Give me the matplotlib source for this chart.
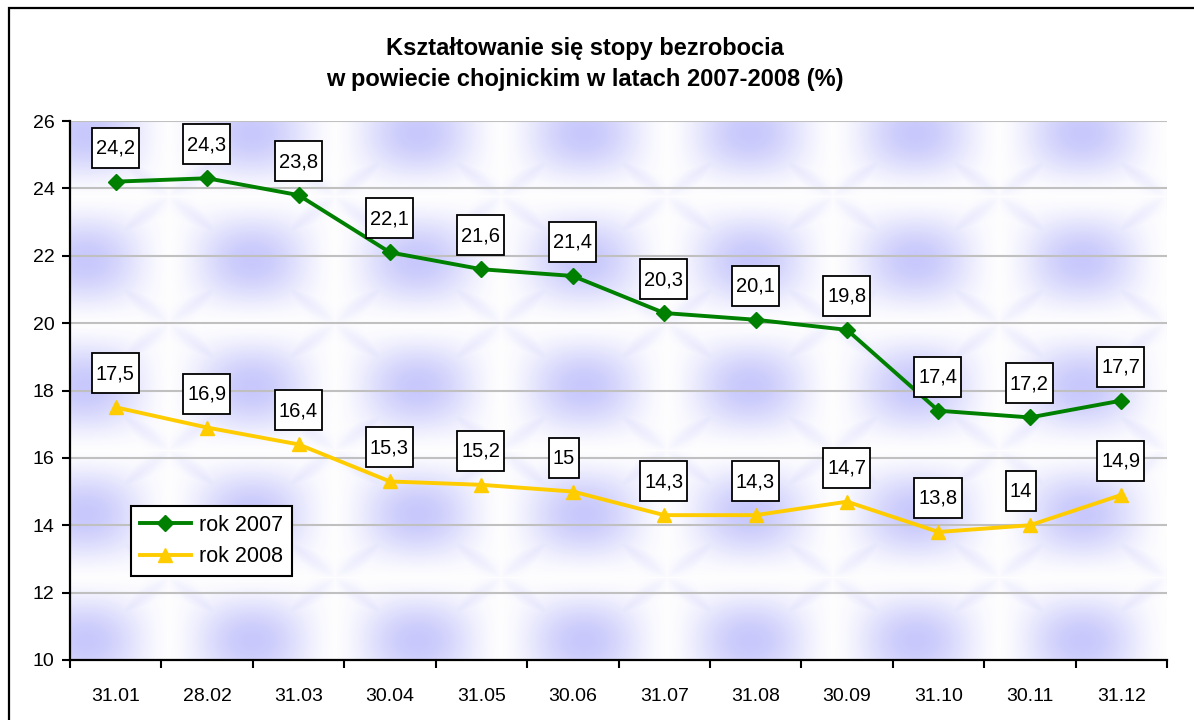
import matplotlib
matplotlib.use("Agg")
import matplotlib.pyplot as plt
import numpy as np
from matplotlib.patches import Rectangle
from matplotlib.transforms import ScaledTranslation

plt.rcParams['font.family'] = ['Liberation Sans', 'DejaVu Sans']

# Data
months = ['31.01', '28.02', '31.03', '30.04', '31.05', '30.06',
          '31.07', '31.08', '30.09', '31.10', '30.11', '31.12']
rok_2007 = [24.2, 24.3, 23.8, 22.1, 21.6, 21.4, 20.3, 20.1, 19.8, 17.4, 17.2, 17.7]
rok_2008 = [17.5, 16.9, 16.4, 15.3, 15.2, 15.0, 14.3, 14.3, 14.7, 13.8, 14.0, 14.9]
y_ticks = [10, 12, 14, 16, 18, 20, 22, 24, 26]

title = 'Kształtowanie się stopy bezrobocia\nw powiecie chojnickim w latach 2007-2008 (%)'

W, H = 1194, 720
fig = plt.figure(figsize=(W / 100, H / 100), dpi=100)
fig.patch.set_facecolor('white')

# outer chart border (runs off the right and bottom edge)
fig.patches.append(Rectangle((9 / W, -0.05), 1.2, 1.05 - 8 / H, transform=fig.transFigure,
                             fill=False, edgecolor='black', linewidth=1.6))

ax_l, ax_r, ax_t, ax_b = 70, 1167, 121, 660
ax = fig.add_axes([ax_l / W, 1 - ax_b / H, (ax_r - ax_l) / W, (ax_b - ax_t) / H])

# textured background (soft blue star tiles)
px = np.arange(ax_l, ax_r) + 0.5
py = np.arange(ax_t, ax_b) + 0.5
X, Y = np.meshgrid(px, py)
u = ((X - 86) / 166 + 0.5) % 1 - 0.5
v = ((Y - 133) / 127 + 0.5) % 1 - 0.5
blob = (np.cos(np.pi * u) ** 2 * np.cos(np.pi * v) ** 2) ** 0.8
arms = np.exp(-((np.abs(u) - np.abs(v)) / 0.09) ** 2) * (1 - 2 * np.maximum(np.abs(u), np.abs(v))) ** 0.5
inten = np.clip(np.maximum(blob, 0.55 * arms), 0, 1)
peak = np.array([200, 200, 252]) / 255
img = 1 - (0.03 + 0.97 * inten[..., None]) * (1 - peak)
ax.imshow(img, extent=(-0.5, 11.5, 10, 26), aspect='auto', zorder=0, interpolation='bilinear')

x = np.arange(len(months))
ax.plot(x, rok_2007, color='#008000', linewidth=2.8, marker='D', markersize=8,
        label='rok 2007', zorder=3)
ax.plot(x, rok_2008, color='#FFCC00', linewidth=2.8, marker='^', markersize=10,
        label='rok 2008', zorder=3)

ax.set_xlim(-0.5, 11.5)
ax.set_ylim(10, 26)
ax.set_yticks(y_ticks)
ax.set_xticks(x)
ax.set_xticklabels(months)
ax.set_xticks(np.arange(-0.5, 12, 1), minor=True)
ax.tick_params(axis='x', which='major', length=0, pad=20, labelsize=14)
ax.tick_params(axis='x', which='minor', length=6, width=1.5, direction='out')
ax.tick_params(axis='y', length=6, width=1.5, direction='out', pad=5, labelsize=14)
ax.yaxis.grid(True, color='#C0C0C0', linewidth=1.5)
for gl in ax.get_ygridlines():
    gl.set_zorder(1)
for s in ['top', 'right']:
    ax.spines[s].set_visible(False)
for s in ['left', 'bottom']:
    ax.spines[s].set_linewidth(1.6)

# data labels in boxes
renderer = fig.canvas.get_renderer()
for series in (rok_2007, rok_2008):
    for i, val in enumerate(series):
        lab = f'{val:g}'.replace('.', ',')
        trans = fig.dpi_scale_trans + ScaledTranslation(i, val, ax.transData)
        t = ax.text(0, 0, lab, transform=trans, ha='center', va='center',
                    fontsize=14.5, zorder=6, clip_on=False)
        tw = t.get_window_extent(renderer).width / 100
        left, bw = -0.24, tw + 0.08
        t.set_position((left + bw / 2, 0.335))
        ax.add_patch(Rectangle((left, 0.14), bw, 0.40, transform=trans, facecolor='white',
                               edgecolor='black', linewidth=1.3, zorder=5, clip_on=False))

leg = ax.legend(loc='upper left', bbox_to_anchor=(0.0556, 0.2857), fontsize=15.5,
                frameon=True, fancybox=False, handlelength=2.4, handletextpad=0.35,
                borderpad=0.4, labelspacing=0.5, borderaxespad=0)
leg.get_frame().set_edgecolor('black')
leg.get_frame().set_linewidth(1.5)
leg.get_frame().set_alpha(1)
leg.set_zorder(7)

fig.text(0.49, 1 - 64 / H, title, ha='center', va='center', fontsize=17,
         fontweight='bold', linespacing=1.45)

fig.savefig('out.png', dpi=100)
